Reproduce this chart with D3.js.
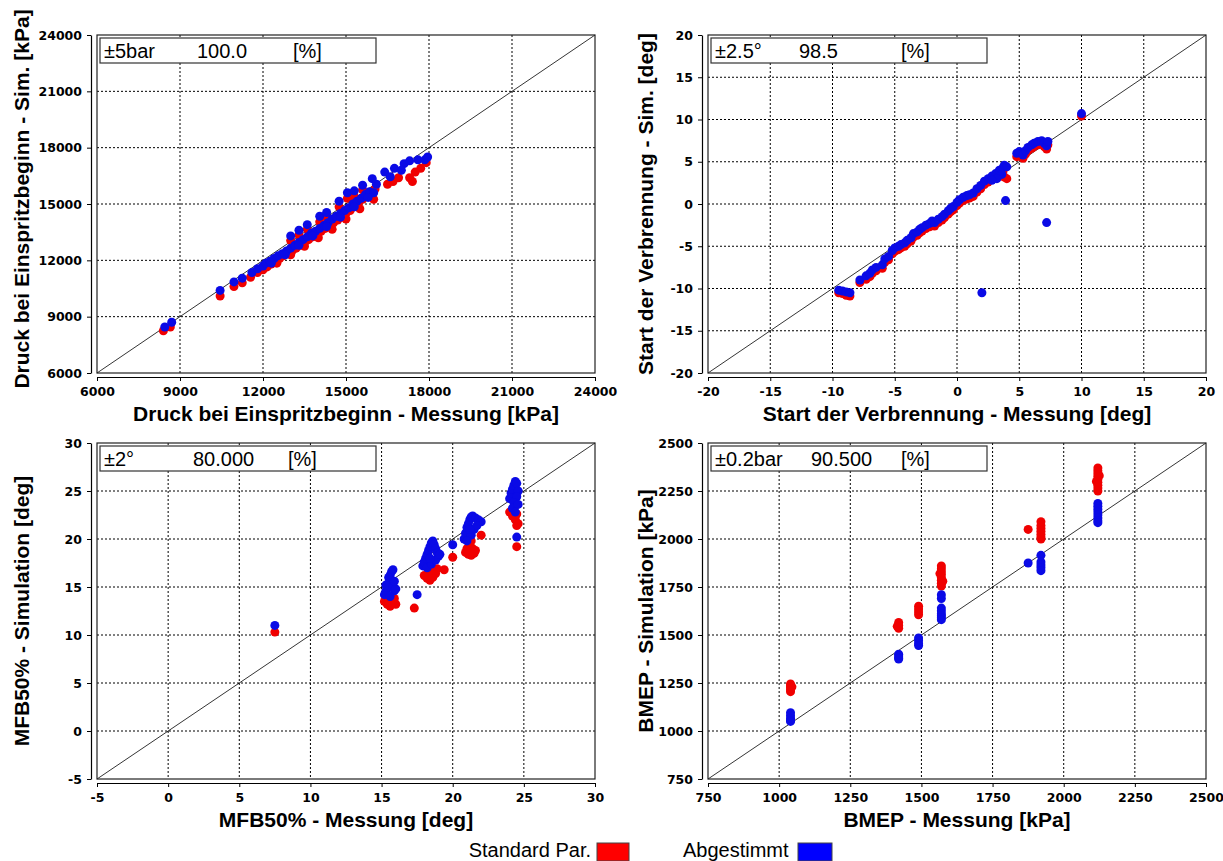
<!DOCTYPE html>
<html>
<head>
<meta charset="utf-8">
<script src="https://cdn.jsdelivr.net/npm/d3@7"></script>
<style>
body { margin: 0; background: #fff; }
svg text { font-family: "Liberation Sans", Arial, sans-serif; fill: #000; }
.tick text { font-family: "DejaVu Sans", sans-serif; font-weight: bold; font-size: 12.5px; }
</style>
</head>
<body>
<svg id="chart" width="1223" height="861"></svg>
<script>
"use strict";

// ---- data ----
var druckTicks = [6000, 9000, 12000, 15000, 18000, 21000, 24000],
	sodTicks = [-20, -15, -10, -5, 0, 5, 10, 15, 20],
	mfbTicks = [-5, 0, 5, 10, 15, 20, 25, 30],
	bmepTicks = [750, 1000, 1250, 1500, 1750, 2000, 2250, 2500];

var seriesNames = ["Standard Par.", "Abgestimmt"];

// Druck bei Einspritzbeginn [kPa]: [Messung, Simulation]
var druckStd = [
	[8400,8250],[8650,8450],[10450,10100],[10950,10600],[11250,10800],[11550,11100],[11800,11350],
	[12000,11500],[12150,11650],[12300,11800],[12450,11950],[12600,12100],[12750,12250],[12900,12350],
	[13050,12500],[13200,12650],[13350,12800],[13500,12950],[13650,13100],[13800,13250],[13950,13400],
	[14100,13550],[14250,13700],[14400,13850],[14550,14000],[14700,14150],[14850,14300],[15000,14500],
	[15150,14650],[15300,14850],[15450,15050],[15600,15250],[15750,15450],[15900,15600],[16000,15250],
	[16050,15800],[16500,16050],[16700,16200],[16900,16400],[17300,16400],[17400,16200],[17500,16700],
	[17700,16900],[17900,17200],
	[13000,13050],[13300,13350],[13600,13650],[14050,14050],[14300,14300],[14750,14850],[15050,15300],
	[15300,15400],[15600,15750],
	[12500,11850],[13000,12300],[13500,12750],[14000,13200],[14500,13650],[15000,14200],[15500,14750]
];
var druckAbg = [
	[8450,8450],[8700,8700],[10450,10400],[10950,10850],[11250,11050],[11600,11350],[11800,11550],
	[12000,11700],[12100,11850],[12250,11950],[12400,12100],[12550,12250],[12700,12350],[12850,12500],
	[13000,12650],[13150,12800],[13300,12950],[13450,13100],[13600,13250],[13750,13450],[13900,13550],
	[14050,13700],[14200,13850],[14350,14000],[14500,14200],[14650,14350],[14800,14500],[14950,14650],
	[15100,14800],[15250,15000],[15400,15150],[15550,15300],[15700,15500],[15850,15650],[16000,15600],
	[16100,16050],
	[12300,11850],[12800,12300],[13300,12800],[13800,13300],[14300,13800],[14800,14300],[15300,14850],
	[15800,15350],
	[13000,13300],[13300,13600],[13600,13900],[14050,14350],[14300,14550],[14750,15150],[15050,15600],
	[15300,15700],[15600,16000],[15950,16350],[16400,16700],[16750,16900],[17100,17150],[17300,17300],
	[17600,17350],[17850,17350],[17950,17500],[16600,16450],[17000,16800]
];

// Start der Verbrennung [deg]
var sodStd = [
	[-9.5,-10.5],[-9.2,-10.6],[-8.9,-10.8],[-8.6,-10.9],[-7.8,-9.3],
	[-7.3,-8.9],[-7,-8.6],[-6.8,-8.2],[-6.5,-7.9],[-6,-7.6],[-5.8,-6.9],[-5.5,-6.6],[-5.2,-5.9],
	[-5,-5.6],[-4.7,-5.4],[-4.5,-5.2],[-4.2,-5],[-4,-4.7],[-3.7,-4.4],[-3.5,-3.9],[-3.2,-3.7],
	[-3,-3.4],[-2.8,-3.2],[-2.5,-2.9],[-2.2,-2.7],[-2,-2.4],[-1.8,-2.6],[-1.5,-2.2],[-1.2,-1.9],
	[-1,-1.6],[-0.7,-1.2],[-0.5,-0.9],[-0.3,-0.7],[0,-0.2],[0.2,0.1],[0.5,0.4],[0.8,0.6],[1,0.7],
	[1.3,0.9],[1.6,1.4],[1.9,1.8],[2.2,2.3],[2.5,2.6],[2.8,2.9],[3.1,3.2],[3.4,3.6],[3.7,3.9],
	[3.8,3.2],[4,3.0],
	[4.8,5.6],[5,5.8],[5.3,5.4],[5.5,5.9],[5.7,6.3],[6,6.6],[6.2,6.8],[6.5,7.0],[6.8,7.1],[7,6.8],
	[7.2,6.5],[7.3,7.0],
	[10,10.4]
];
var sodAbg = [
	[-9.5,-10.2],[-9.2,-10.3],[-8.9,-10.4],[-8.6,-10.5],[-7.8,-9.0],
	[-7.3,-8.5],[-7,-8.2],[-6.8,-7.8],[-6.5,-7.5],[-6,-7.2],[-5.8,-6.5],[-5.5,-6.2],[-5.2,-5.5],
	[-5,-5.2],[-4.7,-5],[-4.5,-4.8],[-4.2,-4.6],[-4,-4.3],[-3.7,-4],[-3.5,-3.5],[-3.2,-3.3],
	[-3,-3],[-2.8,-2.8],[-2.5,-2.5],[-2.2,-2.3],[-2,-2],[-1.8,-2.2],[-1.5,-1.8],[-1.2,-1.5],
	[-1,-1.2],[-0.7,-0.8],[-0.5,-0.5],[-0.3,-0.3],[0,0.2],[0.2,0.5],[0.5,0.8],[0.8,1],[1,1.1],
	[1.3,1.3],[1.6,1.8],[1.9,2.2],[2.2,2.7],[2.5,3],[2.8,3.3],[3.1,3.6],[3.4,4],[3.7,4.3],
	[3.8,4.6],[4,4.4],[3.6,3.5],[3.2,3],[2.8,2.8],
	[4.8,6],[5,6.2],[5.3,5.8],[5.5,6.3],[5.7,6.7],[6,7],[6.2,7.2],[6.5,7.4],[6.8,7.5],[7,7.2],
	[7.2,6.9],[7.3,7.4],
	[2,-10.5],[3.9,0.4],[7.2,-2.2],[10,10.7]
];

// MFB50% [deg]
var mfbStd = [
	[7.5,10.3],
	[15.2,13.5],[15.4,13.2],[15.6,13.0],[15.8,13.3],[16.0,13.2],[15.3,13.8],[15.6,13.6],[15.9,13.8],
	[17.3,12.8],
	[18.0,16.2],[18.2,15.9],[18.4,15.7],[18.6,16.0],[18.8,16.4],[18.5,16.6],[18.3,17.0],[18.9,16.9],[19.4,16.8],
	[20.0,18.1],
	[20.9,18.6],[21.1,18.4],[21.3,18.3],[21.5,18.5],[21.0,19.0],[21.2,19.4],[21.4,19.0],[21.6,18.8],[22.0,20.4],[21.3,19.8],
	[24.0,22.8],[24.2,22.4],[24.4,22.0],[24.6,21.6],[24.5,22.6],[24.3,23.2],[24.5,21.4],[24.5,19.2]
];
var mfbAbg = [
	[7.5,11.0],
	[15.2,14.2],[15.3,14.6],[15.4,15.0],[15.5,15.4],[15.6,15.8],[15.6,16.2],[15.7,16.6],[15.8,16.8],
	[15.3,15.2],[15.8,15.0],[15.9,14.6],[16.0,14.8],[15.6,14.0],[15.5,16.0],[15.9,15.6],
	[17.5,14.2],
	[17.9,17.2],[18.0,17.6],[18.1,18.0],[18.2,18.4],[18.3,18.8],[18.4,19.2],[18.5,19.6],[18.6,19.8],
	[18.7,19.4],[18.8,19.0],[18.9,18.6],[19.0,18.2],[18.2,17.0],[18.5,17.4],[18.8,17.8],[19.1,18.4],[18.4,18.0],
	[20.0,19.4],
	[20.8,20.0],[20.9,20.6],[21.0,21.2],[21.1,21.6],[21.2,22.0],[21.3,22.3],[21.4,22.4],[21.6,22.2],
	[21.8,22.0],[22.0,21.8],[21.5,21.0],[21.3,20.4],[21.0,19.8],[21.7,21.4],[21.2,21.0],
	[24.0,24.2],[24.1,24.8],[24.2,25.2],[24.3,25.6],[24.4,26.0],[24.5,25.8],[24.6,25.0],[24.5,24.4],
	[24.3,23.8],[24.2,23.2],[24.6,23.6],[24.4,22.8],[24.5,20.2]
];

// BMEP [kPa]
var bmepStd = [
	[1040,1245],[1040,1235],[1040,1225],[1040,1215],[1040,1205],[1045,1230],
	[1420,1565],[1420,1550],[1420,1535],[1415,1545],
	[1490,1650],[1490,1635],[1490,1620],[1490,1605],
	[1570,1860],[1570,1845],[1570,1830],[1570,1815],[1570,1800],[1570,1785],[1570,1770],[1570,1755],
	[1575,1780],[1565,1820],
	[1875,2050],
	[1920,2090],[1920,2070],[1920,2055],[1920,2040],[1920,2025],[1920,2010],[1920,2000],
	[2120,2370],[2120,2355],[2120,2340],[2120,2325],[2120,2310],[2120,2295],[2120,2280],[2120,2265],
	[2120,2250],[2115,2300],[2125,2330]
];
var bmepAbg = [
	[1040,1095],[1040,1080],[1040,1065],[1040,1055],[1040,1050],
	[1420,1400],[1420,1390],[1420,1380],[1420,1375],
	[1490,1485],[1490,1470],[1490,1455],[1490,1445],
	[1570,1710],[1570,1690],[1570,1640],[1570,1625],[1570,1610],[1570,1600],[1570,1590],[1570,1580],
	[1875,1875],
	[1920,1915],[1920,1880],[1920,1865],[1920,1850],[1920,1835],
	[2120,2185],[2120,2170],[2120,2155],[2120,2140],[2120,2125],[2120,2110],[2120,2095],[2120,2085]
];

// in-panel info box: tolerance, share within tolerance, unit
var druckInfo = ["\u00b15bar", "100.0", "[%]"],
	sodInfo = ["\u00b12.5\u00b0", "98.5", "[%]"],
	mfbInfo = ["\u00b12\u00b0", "80.000", "[%]"],
	bmepInfo = ["\u00b10.2bar", "90.500", "[%]"];

var colors = { std: "#f00000", abg: "#0a0ae6" };

var panels = [
	{ left: 97, right: 595, top: 35, bottom: 373, ticks: druckTicks, std: druckStd, abg: druckAbg,
	  info: druckInfo, infoX: [4, 97, 193], titleX: 22, titleY: 199,
	  xTitle: "Druck bei Einspritzbeginn - Messung [kPa]", yTitle: "Druck bei Einspritzbeginn - Sim. [kPa]" },
	{ left: 708, right: 1206, top: 35, bottom: 373, ticks: sodTicks, std: sodStd, abg: sodAbg,
	  info: sodInfo, infoX: [4, 88, 190], titleX: 646, titleY: 204,
	  xTitle: "Start der Verbrennung - Messung [deg]", yTitle: "Start der Verbrennung - Sim. [deg]" },
	{ left: 97, right: 595, top: 443, bottom: 779, ticks: mfbTicks, std: mfbStd, abg: mfbAbg,
	  info: mfbInfo, infoX: [4, 93, 188], titleX: 22, titleY: 611,
	  xTitle: "MFB50% - Messung [deg]", yTitle: "MFB50% - Simulation [deg]" },
	{ left: 708, right: 1206, top: 443, bottom: 779, ticks: bmepTicks, std: bmepStd, abg: bmepAbg,
	  info: bmepInfo, infoX: [4, 100, 190], titleX: 646, titleY: 611,
	  xTitle: "BMEP - Messung [kPa]", yTitle: "BMEP - Simulation [kPa]" }
];

var svg = d3.select("#chart");

function drawPanel(p) {
	var lo = p.ticks[0],
		hi = p.ticks[p.ticks.length - 1],
		x = d3.scaleLinear().domain([lo, hi]).range([p.left, p.right]),
		y = d3.scaleLinear().domain([lo, hi]).range([p.bottom, p.top]),
		inner = p.ticks.slice(1, -1),
		g = svg.append("g");

	// dotted grid
	g.selectAll("line.vgrid")
		.data(inner)
		.enter()
		.append("line")
		.attr("x1", function(d) { return x(d); })
		.attr("x2", function(d) { return x(d); })
		.attr("y1", p.top)
		.attr("y2", p.bottom)
		.attr("stroke", "#000")
		.attr("stroke-width", 1)
		.attr("stroke-dasharray", "2,2");
	g.selectAll("line.hgrid")
		.data(inner)
		.enter()
		.append("line")
		.attr("y1", function(d) { return y(d); })
		.attr("y2", function(d) { return y(d); })
		.attr("x1", p.left)
		.attr("x2", p.right)
		.attr("stroke", "#000")
		.attr("stroke-width", 1)
		.attr("stroke-dasharray", "2,2");

	// y = x
	g.append("line")
		.attr("x1", x(lo)).attr("y1", y(lo))
		.attr("x2", x(hi)).attr("y2", y(hi))
		.attr("stroke", "#000")
		.attr("stroke-width", 0.8);

	// frame
	g.append("rect")
		.attr("x", p.left).attr("y", p.top)
		.attr("width", p.right - p.left)
		.attr("height", p.bottom - p.top)
		.attr("fill", "none")
		.attr("stroke", "#222")
		.attr("stroke-width", 1.2);

	// axes, set off from the frame
	var yAxis = g.append("g")
		.attr("transform", "translate(" + (p.left - 6) + ",0)")
		.call(d3.axisLeft(y).tickValues(p.ticks).tickSize(4).tickSizeOuter(0).tickPadding(5)
			.tickFormat(function(d) { return String(d); }));
	var xAxis = g.append("g")
		.attr("transform", "translate(0," + (p.bottom + 4) + ")")
		.call(d3.axisBottom(x).tickValues(p.ticks).tickSize(4).tickSizeOuter(0).tickPadding(6)
			.tickFormat(function(d) { return String(d); }));
	[yAxis, xAxis].forEach(function(a) {
		a.selectAll("path, line").attr("stroke", "#000");
		a.select(".domain").attr("stroke-width", 1.2);
	});

	// points: standard first, tuned on top
	g.append("g").selectAll("circle")
		.data(p.std)
		.enter()
		.append("circle")
		.attr("cx", function(d) { return x(d[0]); })
		.attr("cy", function(d) { return y(d[1]); })
		.attr("r", 4.5)
		.attr("fill", colors.std);
	g.append("g").selectAll("circle")
		.data(p.abg)
		.enter()
		.append("circle")
		.attr("cx", function(d) { return x(d[0]); })
		.attr("cy", function(d) { return y(d[1]); })
		.attr("r", 4.5)
		.attr("fill", colors.abg);

	// info box
	var bx = p.left + 3, by = p.top + 3;
	g.append("rect")
		.attr("x", bx).attr("y", by)
		.attr("width", 276).attr("height", 25)
		.attr("fill", "#fff")
		.attr("stroke", "#333")
		.attr("stroke-width", 1.2);
	g.selectAll("text.info")
		.data(p.info)
		.enter()
		.append("text")
		.attr("x", function(d, i) { return bx + p.infoX[i]; })
		.attr("y", by + 20)
		.style("font-size", "20px")
		.text(function(d) { return d; });

	// titles
	g.append("text")
		.attr("x", (p.left + p.right) / 2)
		.attr("y", p.bottom + 48)
		.attr("text-anchor", "middle")
		.style("font-size", "21px")
		.style("font-weight", "bold")
		.text(p.xTitle);
	g.append("text")
		.attr("transform", "translate(" + p.titleX + "," + p.titleY + ") rotate(-90)")
		.attr("dy", "0.35em")
		.attr("text-anchor", "middle")
		.style("font-size", "21px")
		.style("font-weight", "bold")
		.text(p.yTitle);
}

panels.forEach(drawPanel);

// legend at the bottom
var legend = svg.append("g");
legend.append("text")
	.attr("x", 591).attr("y", 857)
	.attr("text-anchor", "end")
	.style("font-size", "20px")
	.text(seriesNames[0]);
legend.append("rect")
	.attr("x", 597).attr("y", 843).attr("width", 32).attr("height", 18)
	.attr("fill", "#ff0000").attr("stroke", "#444");
legend.append("text")
	.attr("x", 683).attr("y", 857)
	.style("font-size", "20px")
	.text(seriesNames[1]);
legend.append("rect")
	.attr("x", 798).attr("y", 843).attr("width", 34).attr("height", 18)
	.attr("fill", "#0000ff").attr("stroke", "#444");
</script>
</body>
</html>
